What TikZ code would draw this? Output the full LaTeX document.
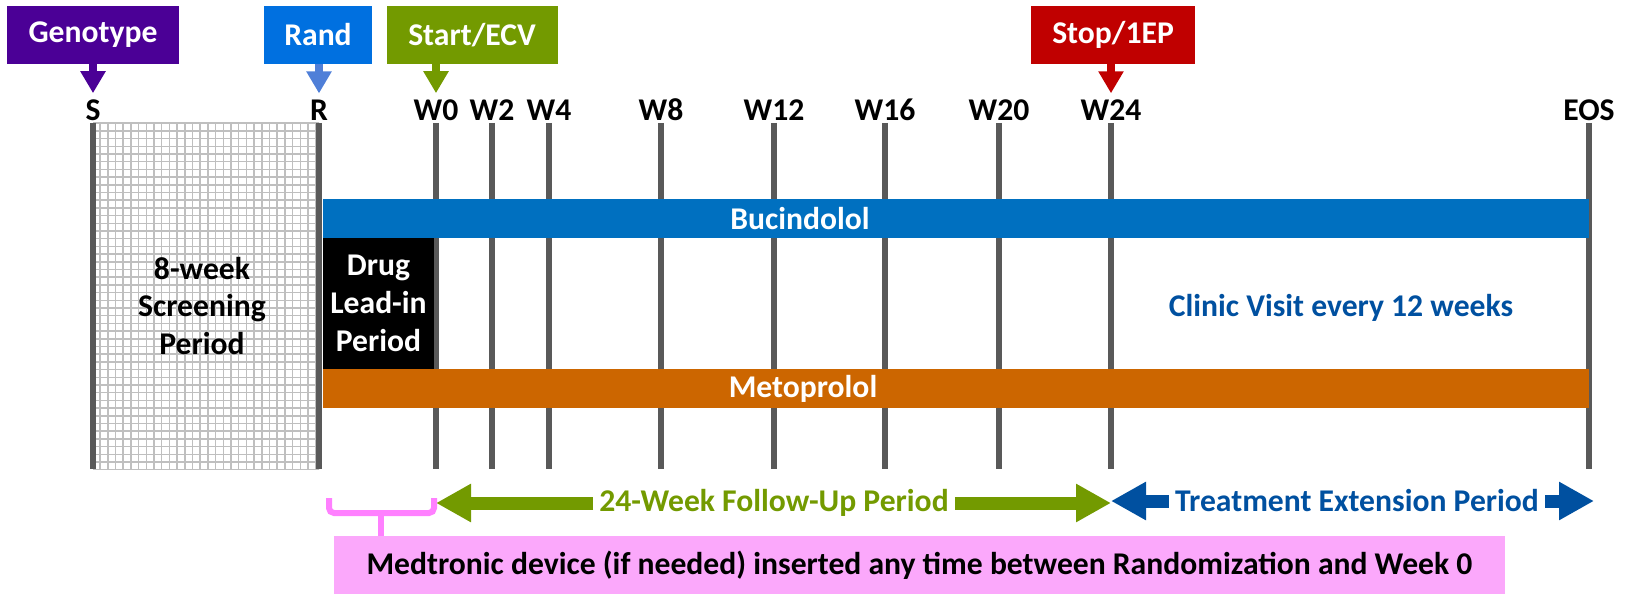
\documentclass[tikz,border=0pt]{standalone}
\usepackage{fontspec}
\setmainfont{Carlito}
\usepackage{xcolor}
\usepackage{tikz}
\usetikzlibrary{arrows.meta,positioning}
\definecolor{genocol}{HTML}{4B0096}
\definecolor{randcol}{HTML}{0070E0}
\definecolor{randarr}{HTML}{4F7FD8}
\definecolor{startcol}{HTML}{739A00}
\definecolor{stopcol}{HTML}{C00000}
\definecolor{buccol}{HTML}{0070C0}
\definecolor{metocol}{HTML}{CC6600}
\definecolor{visitcol}{HTML}{0050A0}
\definecolor{linecol}{HTML}{595959}
\definecolor{hatchcol}{HTML}{BFBFBF}
\definecolor{pinkbox}{HTML}{FBA8FB}
\definecolor{pinkline}{HTML}{FF80FF}

\begin{document}
\begin{tikzpicture}[x=0.2mm,y=-0.2mm,font=\fontsize{18}{21.5}\selectfont\bfseries]
\tikzset{tag/.style = {fill=#1,text=white,minimum height=11.6mm,inner sep=0}}
\tikzset{tick/.style = {inner sep=0}}
\tikzset{vline/.style = {draw=linecol,line width=1.3mm}}
\tikzset{hatch/.style = {draw=hatchcol,line width=0.3mm}}
\tikzset{tagedge/.style = {draw=#1,line width=1.6mm,shorten >=1.2mm,-{Triangle[width=4.8mm,length=4.4mm]}}}
\tikzset{period/.style = {draw=#1,line width=2.6mm,-{Triangle[width=7.2mm,length=7mm]}}}
\tikzset{bracket/.style = {draw=pinkline,line width=1.2mm}}
\useasboundingbox (0,0) rectangle (1628,594);

% screening hatch
\begin{scope}
\clip (93,123) rectangle (319,469);
\draw[hatch,step=1.54mm] (80,480) grid (330,110);
\end{scope}

% time points
\node[tick] (s) at (93,110) {S};
\node[tick] (r) at (319,110) {R};
\node[tick] (w0) at (436,110) {W0};
\node[tick] (w2) at (492,110) {W2};
\node[tick] (w4) at (549,110) {W4};
\node[tick] (w8) at (661,110) {W8};
\node[tick] (w12) at (774,110) {W12};
\node[tick] (w16) at (885,110) {W16};
\node[tick] (w20) at (999,110) {W20};
\node[tick] (w24) at (1111,110) {W24};
\node[tick] (eos) at (1589,110) {EOS};
\coordinate (top) at (0,123);
\coordinate (bot) at (0,469);
\draw[vline] (s |- top) -- (s |- bot);
\draw[vline] (r |- top) -- (r |- bot);
\draw[vline] (w0 |- top) -- (w0 |- bot);
\draw[vline] (w2 |- top) -- (w2 |- bot);
\draw[vline] (w4 |- top) -- (w4 |- bot);
\draw[vline] (w8 |- top) -- (w8 |- bot);
\draw[vline] (w12 |- top) -- (w12 |- bot);
\draw[vline] (w16 |- top) -- (w16 |- bot);
\draw[vline] (w20 |- top) -- (w20 |- bot);
\draw[vline] (w24 |- top) -- (w24 |- bot);
\draw[vline] (eos |- top) -- (eos |- bot);

% tags
\node[tag=genocol,minimum width=34.2mm] (g) at (93,35) {Genotype};
\node[tag=randcol,minimum width=21.6mm] (rd) at (318,35) {Rand};
\node[tag=startcol,minimum width=34.2mm] (st) at (472,35) {Start/ECV};
\node[tag=stopcol,minimum width=32.8mm] (sp) at (1113,35) {Stop/1EP};
\draw[tagedge=genocol] (g.south -| s) -- (s.north);
\draw[tagedge=randarr] (rd.south -| r) -- (r.north);
\draw[tagedge=startcol] (st.south -| w0) -- (w0.north);
\draw[tagedge=stopcol] (sp.south -| w24) -- (w24.north);

% treatment bars
\fill[buccol] (323,199) rectangle (1589,238);
\fill[metocol] (323,369) rectangle (1589,408);
\node[text=white] (buc) at (800,219) {Bucindolol};
\node[text=white] (met) at (803,389) {Metoprolol};
\node[fill=black,text=white,align=center,inner sep=0,minimum width=22.2mm,minimum height=26.2mm] (lead) at (378.5,303.5) {Drug\\Lead-in\\Period};
\node[align=center] (scr) at (202,306) {8-week\\Screening\\Period};
\node[text=visitcol] (visit) at (1341,308) {Clinic Visit every 12 weeks};

% periods
\node[text=startcol] (fu) at (774,503) {24-Week Follow-Up Period};
\draw[period=startcol] (fu.west) -- (fu.west -| w0);
\draw[period=startcol] (fu.east) -- (fu.east -| w24);
\node[text=visitcol] (te) at (1357,501) {Treatment Extension Period};
\coordinate (tend) at (1594,501);
\draw[period=visitcol] (te.west) -- (te.west -| w24);
\draw[period=visitcol] (te.east) -- (tend);

% device note
\node[fill=pinkbox,minimum width=234.2mm,minimum height=11.6mm,inner sep=0] (med) at (919.5,565) {Medtronic device (if needed) inserted any time between Randomization and Week 0};
\draw[bracket,rounded corners=1mm] (329,498) -- (329,513) -- (434,513) -- (434,498);
\coordinate (brk) at (381,513);
\draw[bracket] (brk) -- (brk |- med.north);
\end{tikzpicture}
\end{document}
